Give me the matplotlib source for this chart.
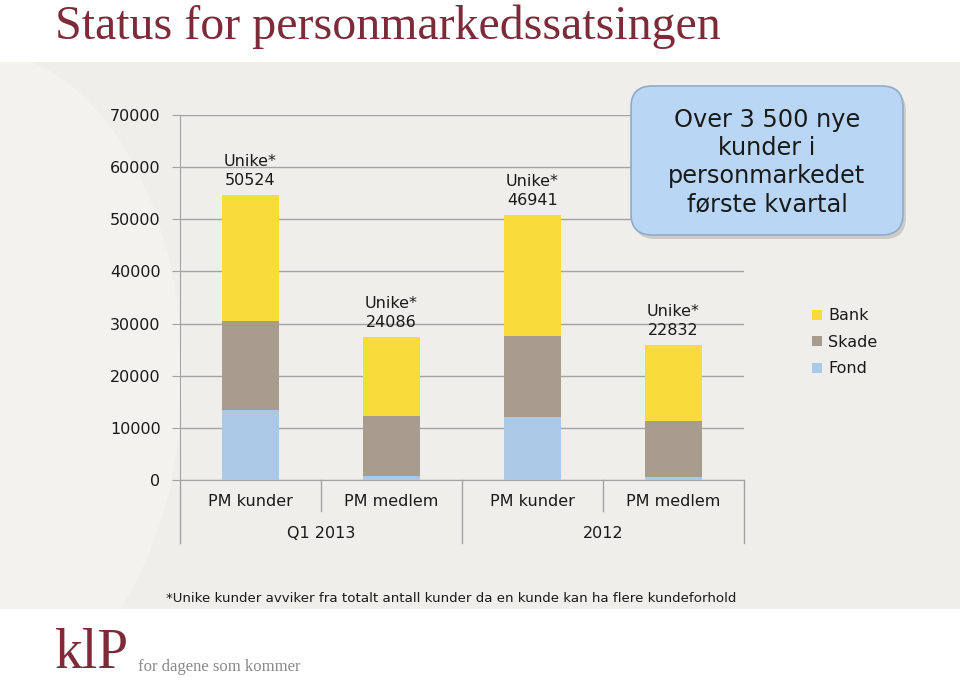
import matplotlib.pyplot as plt
from matplotlib.patches import Rectangle, FancyBboxPatch, Ellipse

# Data
categories = ["PM kunder", "PM medlem", "PM kunder", "PM medlem"]
groups = ["Q1 2013", "2012"]
fond = [13400, 770, 12150, 650]
skade = [17100, 11560, 15530, 10670]
bank = [24100, 15100, 23080, 14570]
unique_counts = [50524, 24086, 46941, 22832]
yticks = [0, 10000, 20000, 30000, 40000, 50000, 60000, 70000]

BANK_C = "#f7dc3c"
SKADE_C = "#a89c8f"
FOND_C = "#a9c9e6"
TEXT_C = "#1a1a1a"
GRID_C = "#a3a3a3"

fig = plt.figure(figsize=(9.6, 6.82), dpi=100)
fig.patch.set_facecolor("white")

# beige slide panel behind the chart
panel_bot, panel_top = 1 - 609 / 682, 1 - 62 / 682
panel = Rectangle((0, panel_bot), 1, panel_top - panel_bot,
                  transform=fig.transFigure, facecolor="#f0eeea",
                  edgecolor="none", zorder=-10)
fig.add_artist(panel)
glow = Ellipse((-0.02, 0.45), 0.42, 0.95, transform=fig.transFigure,
               facecolor="#f4f2ef", edgecolor="none", zorder=-9)
fig.add_artist(glow)
glow.set_clip_path(panel)

fig.text(55 / 960, 1 - 39 / 682, "Status for personmarkedssatsingen",
         family="Liberation Serif", fontsize=34.5, color="#7d2b39",
         ha="left", va="baseline")

ax = fig.add_axes([180 / 960, 1 - 480 / 682, 564 / 960, 365 / 682])
ax.set_facecolor("none")

x = list(range(len(categories)))
w = 0.4
ax.bar(x, fond, w, color=FOND_C, label="Fond", zorder=3)
ax.bar(x, skade, w, bottom=fond, color=SKADE_C, label="Skade", zorder=3)
base2 = [f + s for f, s in zip(fond, skade)]
ax.bar(x, bank, w, bottom=base2, color=BANK_C, label="Bank", zorder=3)

tops = [b + k for b, k in zip(base2, bank)]
for xi, top, u in zip(x, tops, unique_counts):
    ax.annotate(f"Unike*\n{u}", (xi, top), xytext=(0, 5),
                textcoords="offset points", ha="center", va="bottom",
                fontsize=11.5, color=TEXT_C, linespacing=1.35)

ax.set_xlim(-0.5, len(categories) - 0.5)
ax.set_ylim(0, 70000)
ax.set_yticks(yticks)
ax.set_yticklabels([str(t) for t in yticks], fontsize=11.5, color=TEXT_C)
ax.yaxis.grid(True, color=GRID_C, linewidth=1.0, zorder=0)
ax.tick_params(axis="y", length=6, color=GRID_C, pad=8)
ax.set_xticks([])
for side in ["top", "right"]:
    ax.spines[side].set_visible(False)
ax.spines["left"].set_color(GRID_C)
ax.spines["bottom"].set_color(GRID_C)

# multi-level category axis
tr = ax.get_xaxis_transform()
inner_y = -31 / 365
outer_y = -63 / 365
for i in range(len(categories) + 1):
    xb = i - 0.5
    low = outer_y if i % 2 == 0 else inner_y
    ax.plot([xb, xb], [0, low], transform=tr, color=GRID_C, lw=1.0,
            clip_on=False)
for xi, c in zip(x, categories):
    ax.text(xi, -22 / 365, c, transform=tr, ha="center", va="center",
            fontsize=11.5, color=TEXT_C)
for gi, g in enumerate(groups):
    ax.text(gi * 2 + 0.5, -53 / 365, g, transform=tr, ha="center",
            va="center", fontsize=11.5, color=TEXT_C)

h, l = ax.get_legend_handles_labels()
leg = fig.legend(h[::-1], l[::-1], loc="upper left",
                 bbox_to_anchor=(798 / 960, 1 - 294 / 682), frameon=False,
                 fontsize=11.5, handlelength=0.6, handleheight=0.6,
                 handletextpad=0.4, labelspacing=0.72)
for t in leg.get_texts():
    t.set_color(TEXT_C)

# callout box
bx0, by0, bx1, by1 = 631, 86, 903, 235
fig.add_artist(FancyBboxPatch((bx0 / 960 + 0.003, 1 - (by1 + 4) / 682),
                              (bx1 - bx0) / 960, (by1 - by0) / 682,
                              boxstyle="round,pad=0,rounding_size=0.022",
                              transform=fig.transFigure, facecolor="#cdcbc7",
                              edgecolor="none", zorder=4, mutation_aspect=1.4))
fig.add_artist(FancyBboxPatch((bx0 / 960, 1 - by1 / 682),
                              (bx1 - bx0) / 960, (by1 - by0) / 682,
                              boxstyle="round,pad=0,rounding_size=0.022",
                              transform=fig.transFigure, facecolor="#b9d7f5",
                              edgecolor="#8eabc8", linewidth=1.2, zorder=5,
                              mutation_aspect=1.4))
fig.text((bx0 + bx1) / 2 / 960, 1 - 162 / 682,
         "Over 3 500 nye\nkunder i\npersonmarkedet\nførste kvartal",
         ha="center", va="center", fontsize=17.3, color=TEXT_C,
         linespacing=1.22, zorder=6)

fig.text(451 / 960, 1 - 598 / 682,
         "*Unike kunder avviker fra totalt antall kunder da en kunde kan ha flere kundeforhold",
         ha="center", va="center", fontsize=9.6, color=TEXT_C)

# logo
fig.text(55 / 960, 1 - 668 / 682, "klP", family="Liberation Serif",
         fontsize=40, color="#7d2b39", ha="left", va="baseline")
fig.text(138 / 960, 1 - 671 / 682, "for dagene som kommer",
         family="Liberation Serif", fontsize=12, color="#8a8a8a",
         ha="left", va="baseline")

fig.savefig("out.png", dpi=100, facecolor="white")
